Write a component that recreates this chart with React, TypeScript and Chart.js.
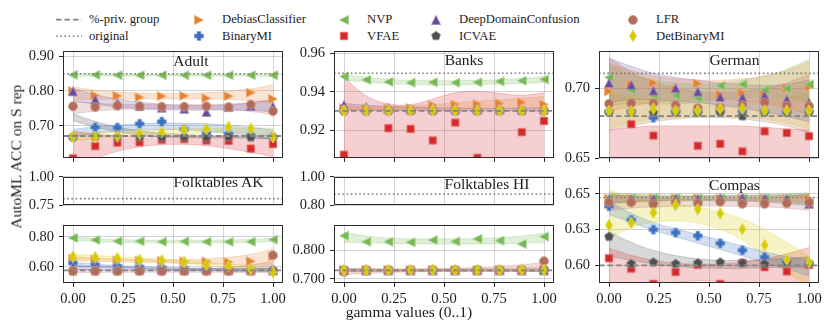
import React, { useEffect, useRef } from 'react';
import { Chart, registerables } from 'chart.js';

Chart.register(...registerables);

const FONT = '"Liberation Serif", "Times New Roman", serif';
const TEXT = '#1c1c1c';

// ---------------- data ----------------
const gammaValues = [0, 0.111, 0.222, 0.333, 0.444, 0.556, 0.667, 0.778, 0.889, 1.0];
const xTickValues = [0, 0.25, 0.5, 0.75, 1.0];
const xTickLabels = ['0.00', '0.25', '0.50', '0.75', '1.00'];
const xLimits = [-0.05, 1.05];

const methodKeys = ['debias', 'binaryMI', 'nvp', 'vfae', 'ddc', 'icvae', 'lfr', 'detBinaryMI'];
const methodNames = ['DebiasClassifier', 'BinaryMI', 'NVP', 'VFAE', 'DeepDomainConfusion', 'ICVAE', 'LFR', 'DetBinaryMI'];
const methodColors = ['#e6812e', '#3a6ec1', '#76b852', '#d52a2a', '#6a4a9c', '#4f4f4f', '#b36b5a', '#d6cb00'];
const methodShapes = ['triRight', 'plus', 'triLeft', 'square', 'triUp', 'pentagon', 'circle', 'diamond'];

const originalAcc = { adult: 0.849, banks: 0.9497, german: 0.7109, folkAK: 0.806, folkHI: 0.878, compas: 0.6474 };
const privGroupShare = { adult: 0.671, banks: 0.930, german: 0.6802, folkAK: 0.576, folkHI: 0.730, compas: 0.600 };

// Adult
const adultYTicks = [0.7, 0.8, 0.9];
const adultYTickLabels = ['0.70', '0.80', '0.90'];
const adultMeans: Record<string, number[]> = {
  debias: [0.800, 0.787, 0.786, 0.782, 0.785, 0.786, 0.779, 0.785, 0.795, 0.777],
  binaryMI: [0.668, 0.696, 0.695, 0.706, 0.712, 0.690, 0.678, 0.677, 0.673, 0.668],
  nvp: [0.846, 0.846, 0.845, 0.845, 0.845, 0.845, 0.845, 0.845, 0.845, 0.845],
  vfae: [0.607, 0.642, 0.652, 0.653, 0.660, 0.662, 0.658, 0.657, 0.635, 0.648],
  ddc: [0.799, 0.775, 0.765, 0.757, 0.752, 0.749, 0.740, 0.754, 0.757, 0.755],
  icvae: [0.668, 0.669, 0.668, 0.668, 0.667, 0.668, 0.667, 0.668, 0.667, 0.668],
  lfr: [0.756, 0.754, 0.758, 0.756, 0.755, 0.755, 0.756, 0.754, 0.761, 0.742],
  detBinaryMI: [0.669, 0.668, 0.670, 0.677, 0.682, 0.689, 0.691, 0.697, 0.692, 0.668],
};
const adultLower: Record<string, number[]> = {
  debias: [0.775, 0.776, 0.777, 0.777, 0.777, 0.777, 0.777, 0.776, 0.772, 0.766],
  binaryMI: [0.668, 0.678, 0.685, 0.689, 0.690, 0.689, 0.685, 0.679, 0.671, 0.660],
  nvp: [0.842, 0.843, 0.843, 0.843, 0.843, 0.843, 0.843, 0.843, 0.843, 0.842],
  vfae: [0.570, 0.605, 0.627, 0.640, 0.646, 0.647, 0.643, 0.635, 0.624, 0.612],
  ddc: [0.772, 0.762, 0.754, 0.749, 0.746, 0.745, 0.745, 0.745, 0.744, 0.740],
  icvae: [0.715, 0.697, 0.683, 0.674, 0.668, 0.666, 0.665, 0.665, 0.664, 0.663],
  lfr: [0.735, 0.742, 0.746, 0.748, 0.749, 0.749, 0.748, 0.746, 0.741, 0.732],
  detBinaryMI: [0.656, 0.663, 0.669, 0.673, 0.676, 0.678, 0.679, 0.679, 0.677, 0.672],
};
const adultUpper: Record<string, number[]> = {
  debias: [0.812, 0.802, 0.797, 0.794, 0.793, 0.793, 0.795, 0.799, 0.806, 0.818],
  binaryMI: [0.690, 0.697, 0.702, 0.706, 0.708, 0.708, 0.706, 0.702, 0.696, 0.688],
  nvp: [0.850, 0.849, 0.848, 0.848, 0.848, 0.848, 0.848, 0.848, 0.849, 0.850],
  vfae: [0.685, 0.676, 0.672, 0.670, 0.670, 0.670, 0.670, 0.669, 0.667, 0.665],
  ddc: [0.808, 0.790, 0.777, 0.768, 0.762, 0.759, 0.758, 0.760, 0.766, 0.776],
  icvae: [0.735, 0.713, 0.697, 0.686, 0.679, 0.675, 0.673, 0.672, 0.672, 0.673],
  lfr: [0.770, 0.765, 0.762, 0.761, 0.760, 0.760, 0.761, 0.763, 0.767, 0.773],
  detBinaryMI: [0.678, 0.681, 0.684, 0.687, 0.690, 0.692, 0.693, 0.694, 0.694, 0.693],
};

// Banks
const banksYTicks = [0.92, 0.94, 0.96];
const banksYTickLabels = ['0.92', '0.94', '0.96'];
const banksMeans: Record<string, number[]> = {
  debias: [0.9315, 0.9312, 0.9313, 0.9316, 0.9330, 0.9334, 0.9336, 0.9340, 0.9345, 0.9334],
  binaryMI: [0.9302, 0.9302, 0.9302, 0.9302, 0.9302, 0.9302, 0.9302, 0.9302, 0.9302, 0.9302],
  nvp: [0.9480, 0.9463, 0.9452, 0.9448, 0.9450, 0.9448, 0.9450, 0.9454, 0.9458, 0.9465],
  vfae: [0.9071, 0.8950, 0.9210, 0.9206, 0.9146, 0.9239, 0.9055, 0.8930, 0.9189, 0.9248],
  ddc: [0.9332, 0.9320, 0.9316, 0.9310, 0.9309, 0.9309, 0.9309, 0.9309, 0.9308, 0.9308],
  icvae: [0.9300, 0.9300, 0.9300, 0.9300, 0.9300, 0.9300, 0.9300, 0.9300, 0.9300, 0.9300],
  lfr: [0.9303, 0.9303, 0.9303, 0.9303, 0.9303, 0.9303, 0.9303, 0.9303, 0.9303, 0.9303],
  detBinaryMI: [0.9302, 0.9303, 0.9302, 0.9302, 0.9303, 0.9303, 0.9302, 0.9303, 0.9302, 0.9302],
};
const banksLower: Record<string, number[]> = {
  debias: [0.9300, 0.9302, 0.9304, 0.9307, 0.9310, 0.9312, 0.9313, 0.9314, 0.9314, 0.9313],
  nvp: [0.9462, 0.9451, 0.9443, 0.9438, 0.9436, 0.9436, 0.9438, 0.9441, 0.9444, 0.9449],
  vfae: [0.880, 0.890, 0.896, 0.898, 0.898, 0.897, 0.896, 0.894, 0.891, 0.885],
  ddc: [0.9305, 0.9304, 0.9303, 0.9302, 0.9302, 0.9301, 0.9301, 0.9300, 0.9299, 0.9298],
};
const banksUpper: Record<string, number[]> = {
  debias: [0.9325, 0.9322, 0.9323, 0.9327, 0.9334, 0.9342, 0.9350, 0.9358, 0.9366, 0.9375],
  nvp: [0.9490, 0.9476, 0.9466, 0.9460, 0.9458, 0.9458, 0.9460, 0.9464, 0.9470, 0.9479],
  vfae: [0.9474, 0.9380, 0.9337, 0.9333, 0.9363, 0.9395, 0.9402, 0.9392, 0.9382, 0.9395],
  ddc: [0.9340, 0.9330, 0.9325, 0.9320, 0.9317, 0.9315, 0.9314, 0.9314, 0.9315, 0.9317],
};

// German
const germanYTicks = [0.65, 0.70];
const germanYTickLabels = ['0.65', '0.70'];
const germanMeans: Record<string, number[]> = {
  debias: [0.698, 0.703, 0.704, 0.699, 0.7035, 0.696, 0.697, 0.6965, 0.700, 0.701],
  binaryMI: [0.6835, 0.6835, 0.6790, 0.6835, 0.6835, 0.6835, 0.6835, 0.6835, 0.6830, 0.6835],
  nvp: [0.708, 0.699, 0.695, 0.695, 0.693, 0.702, 0.703, 0.699, 0.700, 0.703],
  vfae: [0.640, 0.6743, 0.6661, 0.640, 0.6588, 0.6602, 0.6548, 0.6692, 0.6680, 0.6657],
  ddc: [0.704, 0.7027, 0.6985, 0.7003, 0.6978, 0.694, 0.6937, 0.6950, 0.6920, 0.690],
  icvae: [0.6830, 0.6830, 0.6825, 0.6830, 0.6830, 0.6830, 0.6800, 0.6830, 0.6830, 0.6830],
  lfr: [0.689, 0.6895, 0.6895, 0.688, 0.686, 0.6865, 0.688, 0.690, 0.6875, 0.6875],
  detBinaryMI: [0.6838, 0.6835, 0.6855, 0.6840, 0.6840, 0.6855, 0.6855, 0.6840, 0.6840, 0.6840],
};
const germanLower: Record<string, number[]> = {
  debias: [0.683, 0.687, 0.690, 0.691, 0.692, 0.692, 0.691, 0.689, 0.686, 0.681],
  nvp: [0.688, 0.689, 0.689, 0.689, 0.690, 0.692, 0.693, 0.694, 0.693, 0.690],
  vfae: [0.630, 0.636, 0.640, 0.642, 0.643, 0.643, 0.642, 0.640, 0.636, 0.630],
  ddc: [0.690, 0.692, 0.692, 0.691, 0.690, 0.688, 0.686, 0.683, 0.680, 0.676],
  lfr: [0.670, 0.673, 0.676, 0.678, 0.679, 0.679, 0.678, 0.676, 0.673, 0.668],
  detBinaryMI: [0.671, 0.675, 0.678, 0.679, 0.680, 0.680, 0.679, 0.678, 0.675, 0.671],
};
const germanUpper: Record<string, number[]> = {
  debias: [0.718, 0.713, 0.709, 0.707, 0.706, 0.706, 0.707, 0.709, 0.713, 0.719],
  nvp: [0.717, 0.710, 0.706, 0.704, 0.703, 0.704, 0.706, 0.709, 0.714, 0.721],
  vfae: [0.670, 0.672, 0.673, 0.673, 0.673, 0.673, 0.673, 0.672, 0.671, 0.670],
  ddc: [0.722, 0.716, 0.711, 0.708, 0.706, 0.704, 0.703, 0.702, 0.703, 0.706],
  lfr: [0.722, 0.712, 0.705, 0.700, 0.698, 0.697, 0.698, 0.700, 0.704, 0.710],
  detBinaryMI: [0.697, 0.694, 0.692, 0.691, 0.690, 0.690, 0.691, 0.692, 0.694, 0.697],
};

// Folktables AK (broken axis: top shows the original score, bottom the methods)
const akTopYTicks = [0.75, 1.0];
const akTopYTickLabels = ['0.75', '1.00'];
const akYTicks = [0.6, 0.8];
const akYTickLabels = ['0.60', '0.80'];
const akMeans: Record<string, number[]> = {
  debias: [0.655, 0.650, 0.645, 0.643, 0.641, 0.638, 0.637, 0.632, 0.637, 0.670],
  binaryMI: [0.625, 0.615, 0.605, 0.600, 0.595, 0.590, 0.585, 0.580, 0.578, 0.575],
  nvp: [0.793, 0.780, 0.772, 0.771, 0.768, 0.770, 0.768, 0.767, 0.768, 0.782],
  vfae: [0.571, 0.571, 0.571, 0.571, 0.571, 0.571, 0.571, 0.571, 0.571, 0.571],
  ddc: [0.600, 0.595, 0.590, 0.588, 0.585, 0.583, 0.582, 0.580, 0.580, 0.578],
  icvae: [0.572, 0.572, 0.572, 0.572, 0.572, 0.572, 0.572, 0.572, 0.572, 0.572],
  lfr: [0.572, 0.572, 0.572, 0.572, 0.572, 0.572, 0.572, 0.572, 0.572, 0.677],
  detBinaryMI: [0.669, 0.664, 0.657, 0.647, 0.643, 0.633, 0.615, 0.603, 0.585, 0.565],
};
const akLower: Record<string, number[]> = {
  debias: [0.640, 0.636, 0.632, 0.629, 0.626, 0.623, 0.620, 0.617, 0.614, 0.610],
  binaryMI: [0.600, 0.598, 0.594, 0.589, 0.584, 0.579, 0.575, 0.571, 0.568, 0.565],
  nvp: [0.778, 0.770, 0.764, 0.762, 0.760, 0.760, 0.760, 0.761, 0.764, 0.771],
  ddc: [0.580, 0.580, 0.579, 0.578, 0.577, 0.576, 0.575, 0.574, 0.573, 0.572],
  lfr: [0.560, 0.562, 0.563, 0.564, 0.564, 0.564, 0.563, 0.562, 0.562, 0.565],
  detBinaryMI: [0.652, 0.650, 0.646, 0.640, 0.632, 0.622, 0.610, 0.596, 0.580, 0.560],
};
const akUpper: Record<string, number[]> = {
  debias: [0.668, 0.658, 0.651, 0.647, 0.646, 0.648, 0.654, 0.665, 0.683, 0.720],
  binaryMI: [0.630, 0.618, 0.609, 0.602, 0.597, 0.593, 0.590, 0.588, 0.587, 0.588],
  nvp: [0.800, 0.790, 0.783, 0.779, 0.778, 0.778, 0.778, 0.780, 0.783, 0.790],
  ddc: [0.610, 0.603, 0.598, 0.594, 0.591, 0.589, 0.588, 0.587, 0.587, 0.588],
  lfr: [0.585, 0.580, 0.578, 0.578, 0.579, 0.582, 0.588, 0.598, 0.613, 0.635],
  detBinaryMI: [0.685, 0.676, 0.668, 0.660, 0.652, 0.642, 0.631, 0.618, 0.603, 0.585],
};

// Folktables HI
const hiTopYTicks = [0.8, 1.0];
const hiTopYTickLabels = ['0.80', '1.00'];
const hiYTicks = [0.7, 0.8];
const hiYTickLabels = ['0.700', '0.800'];
const hiMeans: Record<string, number[]> = {
  debias: [0.731, 0.730, 0.731, 0.730, 0.731, 0.731, 0.730, 0.731, 0.731, 0.732],
  binaryMI: [0.730, 0.730, 0.730, 0.730, 0.730, 0.730, 0.730, 0.730, 0.730, 0.730],
  nvp: [0.851, 0.830, 0.830, 0.828, 0.836, 0.831, 0.840, 0.834, 0.822, 0.848],
  vfae: [0.731, 0.731, 0.731, 0.731, 0.731, 0.731, 0.731, 0.731, 0.731, 0.731],
  ddc: [0.730, 0.730, 0.730, 0.730, 0.730, 0.730, 0.730, 0.730, 0.730, 0.730],
  icvae: [0.730, 0.730, 0.730, 0.730, 0.730, 0.730, 0.730, 0.730, 0.730, 0.730],
  lfr: [0.725, 0.729, 0.729, 0.730, 0.731, 0.730, 0.729, 0.730, 0.731, 0.762],
  detBinaryMI: [0.731, 0.731, 0.731, 0.731, 0.732, 0.731, 0.731, 0.731, 0.732, 0.731],
};
const hiLower: Record<string, number[]> = {
  debias: [0.724, 0.725, 0.726, 0.726, 0.727, 0.727, 0.727, 0.727, 0.727, 0.727],
  nvp: [0.828, 0.826, 0.824, 0.823, 0.822, 0.822, 0.822, 0.823, 0.825, 0.827],
  lfr: [0.714, 0.719, 0.722, 0.724, 0.725, 0.726, 0.726, 0.726, 0.726, 0.726],
  ddc: [0.725, 0.726, 0.727, 0.727, 0.727, 0.727, 0.727, 0.727, 0.726, 0.725],
};
const hiUpper: Record<string, number[]> = {
  debias: [0.737, 0.736, 0.735, 0.735, 0.735, 0.735, 0.736, 0.737, 0.739, 0.741],
  nvp: [0.862, 0.850, 0.843, 0.840, 0.840, 0.840, 0.841, 0.844, 0.850, 0.860],
  lfr: [0.735, 0.734, 0.734, 0.734, 0.735, 0.737, 0.740, 0.744, 0.750, 0.757],
  ddc: [0.735, 0.734, 0.733, 0.733, 0.733, 0.733, 0.733, 0.733, 0.734, 0.735],
};

// Compas
const compasYTicks = [0.6, 0.625, 0.65];
const compasYTickLabels = ['0.60', '0.63', '0.65'];
const compasMeans: Record<string, number[]> = {
  debias: [0.6468, 0.6468, 0.6470, 0.6470, 0.6470, 0.6468, 0.6468, 0.6468, 0.6465, 0.6465],
  binaryMI: [0.6413, 0.6318, 0.6250, 0.6229, 0.6207, 0.6154, 0.6105, 0.6057, 0.6030, 0.6010],
  nvp: [0.6470, 0.6470, 0.6472, 0.6472, 0.6470, 0.6470, 0.6470, 0.6470, 0.6468, 0.6440],
  vfae: [0.6049, 0.5976, 0.5870, 0.5953, 0.6003, 0.5870, 0.6017, 0.5987, 0.5957, 0.6003],
  ddc: [0.6462, 0.6465, 0.6465, 0.6468, 0.6465, 0.6472, 0.6475, 0.6468, 0.6465, 0.6430],
  icvae: [0.6200, 0.6010, 0.6020, 0.6010, 0.6015, 0.6020, 0.6015, 0.6010, 0.6020, 0.6015],
  lfr: [0.6441, 0.6440, 0.6428, 0.6440, 0.6434, 0.6445, 0.6430, 0.6430, 0.6434, 0.6440],
  detBinaryMI: [0.6281, 0.6298, 0.6367, 0.6421, 0.6392, 0.6363, 0.6252, 0.6142, 0.6038, 0.6020],
};
const compasLower: Record<string, number[]> = {
  debias: [0.6440, 0.6448, 0.6452, 0.6455, 0.6456, 0.6456, 0.6455, 0.6452, 0.6448, 0.6440],
  binaryMI: [0.6355, 0.6300, 0.6245, 0.6200, 0.6155, 0.6110, 0.6065, 0.6020, 0.5975, 0.5925],
  nvp: [0.6430, 0.6440, 0.6445, 0.6448, 0.6450, 0.6450, 0.6448, 0.6445, 0.6440, 0.6430],
  vfae: [0.5750, 0.5820, 0.5860, 0.5880, 0.5890, 0.5888, 0.5880, 0.5862, 0.5835, 0.5790],
  ddc: [0.6435, 0.6445, 0.6452, 0.6455, 0.6456, 0.6455, 0.6450, 0.6443, 0.6432, 0.6418],
  icvae: [0.6065, 0.6035, 0.6010, 0.5992, 0.5982, 0.5978, 0.5978, 0.5982, 0.5985, 0.5985],
  lfr: [0.6385, 0.6400, 0.6408, 0.6412, 0.6414, 0.6414, 0.6412, 0.6408, 0.6400, 0.6385],
  detBinaryMI: [0.6190, 0.6262, 0.6300, 0.6310, 0.6295, 0.6250, 0.6175, 0.6065, 0.5950, 0.5850],
};
const compasUpper: Record<string, number[]> = {
  debias: [0.6495, 0.6488, 0.6484, 0.6482, 0.6481, 0.6481, 0.6482, 0.6484, 0.6488, 0.6495],
  binaryMI: [0.6445, 0.6365, 0.6300, 0.6255, 0.6215, 0.6175, 0.6135, 0.6095, 0.6060, 0.6040],
  nvp: [0.6510, 0.6500, 0.6495, 0.6492, 0.6490, 0.6490, 0.6492, 0.6495, 0.6500, 0.6510],
  vfae: [0.6120, 0.6070, 0.6035, 0.6015, 0.6008, 0.6010, 0.6022, 0.6045, 0.6080, 0.6125],
  ddc: [0.6495, 0.6488, 0.6484, 0.6483, 0.6484, 0.6486, 0.6488, 0.6490, 0.6492, 0.6495],
  icvae: [0.6235, 0.6160, 0.6105, 0.6068, 0.6045, 0.6035, 0.6035, 0.6040, 0.6048, 0.6060],
  lfr: [0.6495, 0.6480, 0.6470, 0.6465, 0.6462, 0.6462, 0.6465, 0.6470, 0.6480, 0.6495],
  detBinaryMI: [0.6525, 0.6478, 0.6448, 0.6428, 0.6408, 0.6375, 0.6325, 0.6250, 0.6160, 0.6070],
};

// ---------------- layout / styling ----------------
const PAD_L = 60;
const PAD_R = 10;
const PAD_T = 12;
const PAD_B = 30;
const TICK_SIZE = 14.5;
const GRID = 'rgba(0,0,0,0.17)';

type PanelCfg = {
  id: string;
  rect: [number, number, number, number];
  yRange: [number, number];
  yTicks: number[];
  yLabels: string[];
  xLabels: boolean;
  xTickMarks: boolean;
  means: Record<string, number[]> | null;
  lower: Record<string, number[]> | null;
  upper: Record<string, number[]> | null;
  original: number | null;
  priv: number | null;
};

const panels: PanelCfg[] = [
  { id: 'adult', rect: [63, 49, 220, 109], yRange: [0.608, 0.9152], yTicks: adultYTicks, yLabels: adultYTickLabels, xLabels: false, xTickMarks: true, means: adultMeans, lower: adultLower, upper: adultUpper, original: originalAcc.adult, priv: privGroupShare.adult },
  { id: 'banks', rect: [334, 49, 220, 109], yRange: [0.9054, 0.9615], yTicks: banksYTicks, yLabels: banksYTickLabels, xLabels: false, xTickMarks: true, means: banksMeans, lower: banksLower, upper: banksUpper, original: originalAcc.banks, priv: privGroupShare.banks },
  { id: 'german', rect: [599, 49, 220, 109], yRange: [0.65, 0.7272], yTicks: germanYTicks, yLabels: germanYTickLabels, xLabels: false, xTickMarks: true, means: germanMeans, lower: germanLower, upper: germanUpper, original: originalAcc.german, priv: privGroupShare.german },
  { id: 'akTop', rect: [63, 175, 220, 30], yRange: [0.75, 1.0], yTicks: akTopYTicks, yLabels: akTopYTickLabels, xLabels: false, xTickMarks: false, means: null, lower: null, upper: null, original: originalAcc.folkAK, priv: null },
  { id: 'akBottom', rect: [63, 223, 220, 60], yRange: [0.4916, 0.882], yTicks: akYTicks, yLabels: akYTickLabels, xLabels: true, xTickMarks: true, means: akMeans, lower: akLower, upper: akUpper, original: null, priv: privGroupShare.folkAK },
  { id: 'hiTop', rect: [334, 175, 220, 30], yRange: [0.8, 1.0], yTicks: hiTopYTicks, yLabels: hiTopYTickLabels, xLabels: false, xTickMarks: false, means: null, lower: null, upper: null, original: originalAcc.folkHI, priv: null },
  { id: 'hiBottom', rect: [334, 223, 220, 60], yRange: [0.6855, 0.8896], yTicks: hiYTicks, yLabels: hiYTickLabels, xLabels: true, xTickMarks: true, means: hiMeans, lower: hiLower, upper: hiUpper, original: null, priv: privGroupShare.folkHI },
  { id: 'compas', rect: [599, 175, 220, 108], yRange: [0.5876, 0.662], yTicks: compasYTicks, yLabels: compasYTickLabels, xLabels: true, xTickMarks: true, means: compasMeans, lower: compasLower, upper: compasUpper, original: originalAcc.compas, priv: privGroupShare.compas },
];

const titles = [
  { text: 'Adult', x: 191, baseline: 66 },
  { text: 'Banks', x: 464, baseline: 65 },
  { text: 'German', x: 734.5, baseline: 65 },
  { text: 'Folktables AK', x: 218.5, baseline: 187 },
  { text: 'Folktables HI', x: 487, baseline: 188.5 },
  { text: 'Compas', x: 734.5, baseline: 190 },
];

// ---------------- helpers ----------------
function hexToRgb(hex: string) {
  const h = hex.replace('#', '');
  return [parseInt(h.slice(0, 2), 16), parseInt(h.slice(2, 4), 16), parseInt(h.slice(4, 6), 16)];
}
function rgba(hex: string, a: number) {
  const [r, g, b] = hexToRgb(hex);
  return `rgba(${r},${g},${b},${a})`;
}
function lighten(hex: string, f: number) {
  const [r, g, b] = hexToRgb(hex);
  const m = (c: number) => Math.round(c + (255 - c) * f);
  return `rgb(${m(r)},${m(g)},${m(b)})`;
}

function drawShape(ctx: CanvasRenderingContext2D, shape: string, color: string, cx: number, cy: number, s: number) {
  const h = s / 2;
  ctx.beginPath();
  if (shape === 'circle') {
    ctx.arc(cx, cy, h, 0, Math.PI * 2);
  } else if (shape === 'square') {
    const q = s * 0.42;
    ctx.rect(cx - q, cy - q, 2 * q, 2 * q);
  } else if (shape === 'triUp') {
    ctx.moveTo(cx, cy - h); ctx.lineTo(cx + h, cy + h); ctx.lineTo(cx - h, cy + h);
  } else if (shape === 'triRight') {
    ctx.moveTo(cx + h, cy); ctx.lineTo(cx - h, cy - h); ctx.lineTo(cx - h, cy + h);
  } else if (shape === 'triLeft') {
    ctx.moveTo(cx - h, cy); ctx.lineTo(cx + h, cy - h); ctx.lineTo(cx + h, cy + h);
  } else if (shape === 'diamond') {
    const hh = s * 0.66; const w = hh * 0.6;
    ctx.moveTo(cx, cy - hh); ctx.lineTo(cx + w, cy); ctx.lineTo(cx, cy + hh); ctx.lineTo(cx - w, cy);
  } else if (shape === 'plus') {
    const a = h; const t = s / 6 + 0.4;
    const pts = [[t, -a], [t, -t], [a, -t], [a, t], [t, t], [t, a], [-t, a], [-t, t], [-a, t], [-a, -t], [-t, -t], [-t, -a]];
    pts.forEach(([px, py], i) => (i === 0 ? ctx.moveTo(cx + px, cy + py) : ctx.lineTo(cx + px, cy + py)));
  } else if (shape === 'pentagon') {
    for (let k = 0; k < 5; k++) {
      const ang = -Math.PI / 2 + (k * 2 * Math.PI) / 5;
      const px = cx + h * 1.05 * Math.cos(ang);
      const py = cy + h * 1.05 * Math.sin(ang);
      if (k === 0) ctx.moveTo(px, py); else ctx.lineTo(px, py);
    }
  }
  ctx.closePath();
  ctx.fillStyle = color;
  ctx.fill();
  ctx.lineWidth = 0.8;
  ctx.strokeStyle = lighten(color, 0.35);
  ctx.stroke();
}

const markerCache = new Map<string, HTMLCanvasElement>();
function markerCanvas(shape: string, color: string, size: number) {
  const key = `${shape}|${color}|${size}`;
  const hit = markerCache.get(key);
  if (hit) return hit;
  const c = document.createElement('canvas');
  const dim = 16;
  c.width = dim; c.height = dim;
  const ctx = c.getContext('2d')!;
  drawShape(ctx, shape, color, dim / 2, dim / 2, size);
  markerCache.set(key, c);
  return c;
}

const framePlugin = {
  id: 'frame',
  afterDraw(chart: any) {
    const { ctx, chartArea: a } = chart;
    ctx.save();
    ctx.strokeStyle = '#2a2a2a';
    ctx.lineWidth = 1;
    ctx.strokeRect(Math.round(a.left) + 0.5, Math.round(a.top) + 0.5, Math.round(a.width) - 1, Math.round(a.height) - 1);
    ctx.restore();
  },
};

function buildConfig(cfg: PanelCfg): any {
  const datasets: any[] = [];
  const pts = (vals: number[]) => gammaValues.map((x, i) => ({ x, y: vals[i] }));
  if (cfg.lower && cfg.upper) {
    methodKeys.forEach((k, mi) => {
      const lo = cfg.lower![k];
      const hi = cfg.upper![k];
      if (!lo || !hi) return;
      const col = methodColors[mi];
      const loIdx = datasets.length;
      datasets.push({ data: pts(lo), borderColor: rgba(col, 0.3), borderWidth: 0.8, pointRadius: 0, tension: 0.4, fill: false, order: 60 });
      datasets.push({ data: pts(hi), borderColor: rgba(col, 0.3), borderWidth: 0.8, pointRadius: 0, tension: 0.4, fill: loIdx, backgroundColor: rgba(col, 0.22), order: 60 });
    });
  }
  if (cfg.means) {
    methodKeys.forEach((k, mi) => {
      const img = markerCanvas(methodShapes[mi], methodColors[mi], 9);
      datasets.push({ data: pts(cfg.means![k]), showLine: false, pointStyle: img, pointRadius: 5, order: 30 - mi, clip: 0 });
    });
  }
  if (cfg.original != null) {
    datasets.push({ data: [{ x: xLimits[0], y: cfg.original }, { x: xLimits[1], y: cfg.original }], borderColor: '#7c7c7c', borderWidth: 1.6, borderDash: [1.6, 2.6], pointRadius: 0, order: 1 });
  }
  if (cfg.priv != null) {
    datasets.push({ data: [{ x: xLimits[0], y: cfg.priv }, { x: xLimits[1], y: cfg.priv }], borderColor: '#858585', borderWidth: 1.8, borderDash: [5.5, 3], pointRadius: 0, order: 2 });
  }
  const tickFont = { family: FONT, size: TICK_SIZE };
  return {
    type: 'line',
    data: { datasets },
    plugins: [framePlugin],
    options: {
      animation: false,
      responsive: false,
      devicePixelRatio: 1,
      events: [],
      layout: { padding: { left: 0, right: PAD_R, top: PAD_T, bottom: 0 } },
      plugins: { legend: { display: false }, tooltip: { enabled: false }, filler: { propagate: false, drawTime: 'beforeDatasetsDraw' } },
      scales: {
        x: {
          type: 'linear', min: xLimits[0], max: xLimits[1],
          afterBuildTicks: (s: any) => { s.ticks = xTickValues.map((v) => ({ value: v })); },
          afterFit: (s: any) => { s.height = PAD_B; },
          border: { display: false },
          grid: { color: GRID, lineWidth: 1, drawTicks: cfg.xTickMarks, tickLength: 4, tickColor: '#2a2a2a', tickWidth: 1 },
          ticks: { display: cfg.xLabels, padding: 3, color: TEXT, font: tickFont, maxRotation: 0, autoSkip: false,
            callback: (v: number) => xTickLabels[xTickValues.indexOf(v)] ?? '' },
        },
        y: {
          type: 'linear', min: cfg.yRange[0], max: cfg.yRange[1],
          afterBuildTicks: (s: any) => { s.ticks = cfg.yTicks.map((v) => ({ value: v })); },
          afterFit: (s: any) => { s.width = PAD_L; },
          border: { display: false },
          grid: { color: GRID, lineWidth: 1, drawTicks: true, tickLength: 4, tickColor: '#2a2a2a', tickWidth: 1 },
          ticks: { padding: 5, color: TEXT, font: tickFont, autoSkip: false,
            callback: (v: number) => cfg.yLabels[cfg.yTicks.indexOf(v)] ?? '' },
        },
      },
    },
  };
}

function PanelChart({ cfg }: { cfg: PanelCfg }) {
  const ref = useRef<HTMLCanvasElement>(null);
  useEffect(() => {
    const chart = new Chart(ref.current!, buildConfig(cfg));
    return () => chart.destroy();
  }, [cfg]);
  const [l, t, w, h] = cfg.rect;
  const cw = w + PAD_L + PAD_R;
  const ch = h + PAD_T + PAD_B;
  return (
    <canvas ref={ref} width={cw} height={ch}
      style={{ position: 'absolute', left: l - PAD_L, top: t - PAD_T, width: cw, height: ch }} />
  );
}

function Txt({ x, baseline, size, children, center }: { x: number; baseline: number; size: number; children: any; center?: boolean }) {
  return (
    <div style={{
      position: 'absolute', left: x, top: baseline - 0.8375 * size, fontSize: size, lineHeight: `${size}px`,
      whiteSpace: 'nowrap', fontFamily: FONT, color: TEXT, transform: center ? 'translateX(-50%)' : undefined,
    }}>{children}</div>
  );
}

function LegendMarker({ shape, color, x, y }: { shape: string; color: string; x: number; y: number }) {
  const ref = useRef<HTMLCanvasElement>(null);
  useEffect(() => {
    const ctx = ref.current!.getContext('2d')!;
    ctx.clearRect(0, 0, 16, 16);
    drawShape(ctx, shape, color, 8, 8, 9);
  }, [shape, color]);
  return <canvas ref={ref} width={16} height={16} style={{ position: 'absolute', left: x - 8, top: y - 8, width: 16, height: 16 }} />;
}

const LEG_FS = 12.7;
const legendRows = [19.7, 36.3];
const legendBaselines = [24, 40.5];
const legendMarkerX = [199, 344, 436, 633, 703];

function Legend() {
  const items: any[] = [];
  items.push(
    <svg key="lines" width={30} height={40} style={{ position: 'absolute', left: 54, top: 8 }}>
      <line x1={2} y1={legendRows[0] - 8} x2={28} y2={legendRows[0] - 8} stroke="#858585" strokeWidth={1.8} strokeDasharray="5.5 3" />
      <line x1={2} y1={legendRows[1] - 8} x2={28} y2={legendRows[1] - 8} stroke="#7c7c7c" strokeWidth={1.6} strokeDasharray="1.6 2.6" />
    </svg>
  );
  items.push(<Txt key="t-priv" x={89} baseline={legendBaselines[0]} size={LEG_FS}>%-priv. group</Txt>);
  items.push(<Txt key="t-orig" x={89} baseline={legendBaselines[1]} size={LEG_FS}>original</Txt>);
  methodKeys.forEach((k, mi) => {
    const col = Math.floor(mi / 2);
    const row = mi % 2;
    const mx = legendMarkerX[col];
    items.push(<LegendMarker key={`m-${k}`} shape={methodShapes[mi]} color={methodColors[mi]} x={mx} y={legendRows[row]} />);
    items.push(<Txt key={`t-${k}`} x={mx + 23} baseline={legendBaselines[row]} size={LEG_FS}>{methodNames[mi]}</Txt>);
  });
  return <>{items}</>;
}

export default function App() {
  return (
    <div style={{ position: 'fixed', left: 0, top: 0, width: 831, height: 330, background: '#fff', overflow: 'hidden' }}>
      <Legend />
      {panels.map((p) => <PanelChart key={p.id} cfg={p} />)}
      {titles.map((t) => <Txt key={t.text} x={t.x} baseline={t.baseline} size={15.5} center>{t.text}</Txt>)}
      <div style={{
        position: 'absolute', left: 15.5 - 100, top: 157 - 15.5 / 2, width: 200, textAlign: 'center',
        fontSize: 15.5, lineHeight: '15.5px', fontFamily: FONT, color: TEXT, transform: 'rotate(-90deg)', whiteSpace: 'nowrap',
      }}>AutoML ACC on S rep</div>
      <Txt x={409} baseline={316.8} size={15.5} center>gamma values (0..1)</Txt>
    </div>
  );
}
